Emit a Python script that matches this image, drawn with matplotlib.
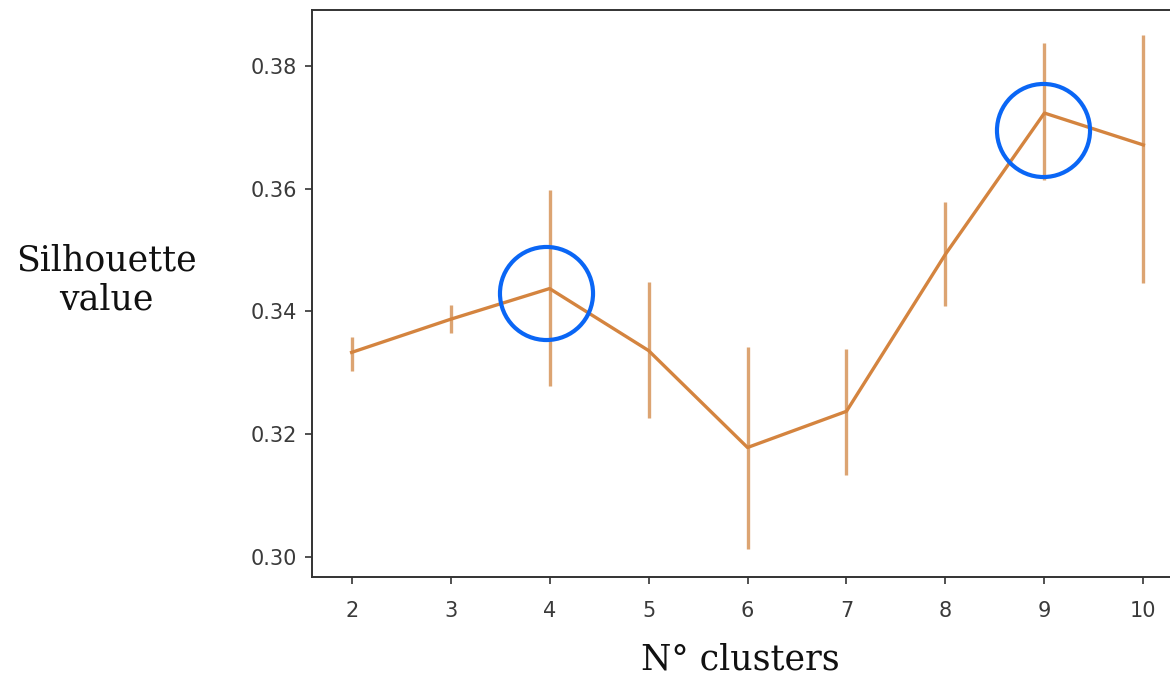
import matplotlib
matplotlib.use("Agg")
import matplotlib.pyplot as plt

clusters = [2, 3, 4, 5, 6, 7, 8, 9, 10]
silhouette = [0.3333, 0.3387, 0.3437, 0.3336, 0.3178, 0.3237, 0.3493, 0.3723, 0.3671]
err_lower = [0.0031, 0.0023, 0.0159, 0.0110, 0.0165, 0.0104, 0.0085, 0.0109, 0.0225]
err_upper = [0.0025, 0.0023, 0.0160, 0.0111, 0.0163, 0.0101, 0.0085, 0.0114, 0.0180]
xticks = [2, 3, 4, 5, 6, 7, 8, 9, 10]
yticks = [0.30, 0.32, 0.34, 0.36, 0.38]
highlight_x = [3.96, 8.99]
highlight_y = [0.3429, 0.3696]

fig = plt.figure(figsize=(11.7, 6.78), dpi=100)
ax = fig.add_axes([0.2667, 0.149, 0.7444, 0.8363])

ax.errorbar(clusters, silhouette, yerr=[err_lower, err_upper], fmt='none',
            ecolor='#d99a63', elinewidth=2.4, capsize=0, alpha=0.9, zorder=2)
ax.plot(clusters, silhouette, color='#d4843f', linewidth=2.4, zorder=3)
ax.plot(highlight_x, highlight_y, linestyle='none', marker='o', markersize=67,
        markerfacecolor='none', markeredgecolor='#0a66f5', markeredgewidth=3.0,
        zorder=4)

ax.set_xlim(1.6, 10.4)
ax.set_ylim(0.2967, 0.3891)
ax.set_xticks(xticks)
ax.set_xticklabels([str(v) for v in xticks])
ax.set_yticks(yticks)
ax.set_yticklabels([f"{v:.2f}" for v in yticks])
ax.tick_params(axis='both', labelsize=15, colors='#333333', labelcolor='#3a3a3a',
               length=5, width=1.2, pad=6)
ax.tick_params(axis='x', pad=12)
for sp in ax.spines.values():
    sp.set_color('#333333')
    sp.set_linewidth(1.4)
ax.spines['right'].set_visible(False)

fig.text(106 / 1170, 1 - 280 / 678, "Silhouette\nvalue", ha='center', va='center',
         fontsize=25, family='DejaVu Serif', linespacing=1.15, color='#111111')
fig.text(740 / 1170, 1 - 660 / 678, "N° clusters", ha='center', va='center',
         fontsize=25, family='DejaVu Serif', color='#111111')

fig.savefig("out.png", dpi=100)
